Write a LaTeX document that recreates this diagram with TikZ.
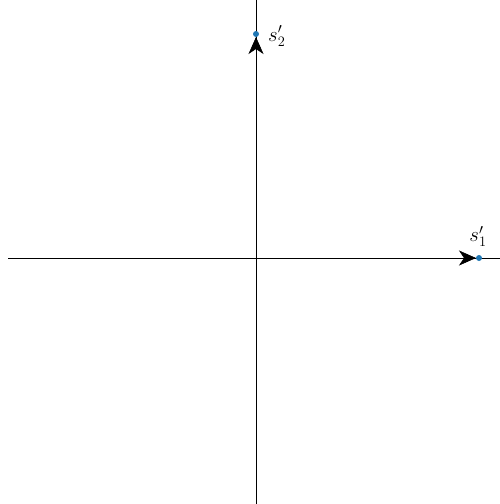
\documentclass[tikz,border=0pt]{standalone}
\usetikzlibrary{arrows.meta}
\definecolor{dotblue}{RGB}{31,119,180}
\begin{document}
\begin{tikzpicture}[x=1pt,y=-1pt,
  axis/.style={draw=black,line width=0.6pt},
  vec/.style={draw=black,line width=0.6pt,-{Stealth[length=17pt,width=15pt,inset=5pt]},shorten >=3pt},
  pt/.style={circle,fill=dotblue,inner sep=0pt,minimum size=6pt},
  lbl/.style={inner sep=1pt,font=\huge}]
\useasboundingbox (0,0) rectangle (500,504);
\coordinate (o) at (256,258);
\coordinate (xl) at (8,258);
\coordinate (xr) at (500,258);
\coordinate (yt) at (256,0);
\coordinate (yb) at (256,504);
\draw[axis] (xl) -- (xr);
\draw[axis] (yt) -- (yb);
\node[pt] (p1) at (479,258) {};
\node[pt] (p2) at (256,34) {};
\draw[vec] (o) -- (p1.center);
\draw[vec] (o) -- (p2.center);
\node[lbl,anchor=south] (l1) at (478,248) {$s_1'$};
\node[lbl,anchor=west] (l2) at (267,36) {$s_2'$};
\end{tikzpicture}
\end{document}
